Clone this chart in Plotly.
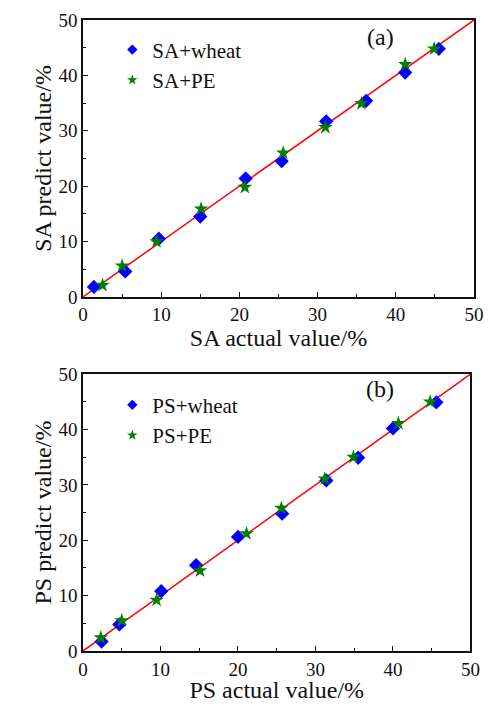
import plotly.graph_objects as go

# ---- data ----
sa_wheat_x = [1.4, 5.4, 9.7, 15.0, 20.8, 25.4, 31.1, 36.2, 41.2, 45.5]
sa_wheat_y = [1.8, 4.6, 10.5, 14.5, 21.4, 24.5, 31.7, 35.4, 40.5, 44.8]
sa_pe_x = [2.5, 5.0, 9.4, 15.1, 20.7, 25.6, 31.0, 35.6, 41.2, 44.9]
sa_pe_y = [2.1, 5.6, 10.0, 15.9, 19.8, 26.0, 30.6, 34.9, 42.0, 44.8]
ps_wheat_x = [2.4, 4.7, 10.1, 14.6, 20.0, 25.7, 31.4, 35.5, 40.0, 45.6]
ps_wheat_y = [1.7, 4.8, 10.8, 15.5, 20.6, 24.8, 30.8, 34.9, 40.2, 44.9]
ps_pe_x = [2.3, 5.0, 9.5, 15.1, 21.1, 25.6, 31.2, 34.9, 40.7, 44.8]
ps_pe_y = [2.4, 5.5, 9.2, 14.5, 21.2, 25.8, 31.1, 35.0, 41.1, 45.0]
fit_line = [0, 50]
tick_vals = [0, 10, 20, 30, 40, 50]

FONT = "Liberation Serif"
BLUE = "#0000FF"
GREEN = "#007F00"
RED = "#FF0000"
INK = "#111111"

fig = go.Figure()

def add_panel(xa, ya, wx, wy, px, py, lname_w, lname_p, legend):
    fig.add_trace(go.Scatter(x=fit_line, y=fit_line, mode="lines",
                             line=dict(color=RED, width=1.5), showlegend=False,
                             xaxis=xa, yaxis=ya, hoverinfo="skip"))
    fig.add_trace(go.Scatter(x=wx, y=wy, mode="markers", name=lname_w,
                             marker=dict(symbol="diamond", size=11, color=BLUE),
                             showlegend=False, xaxis=xa, yaxis=ya))
    fig.add_trace(go.Scatter(x=px, y=py, mode="markers", name=lname_p,
                             marker=dict(symbol="star", size=11, color=GREEN),
                             showlegend=False, xaxis=xa, yaxis=ya))
    # legend entries (smaller symbols as in reference)
    fig.add_trace(go.Scatter(x=[None], y=[None], mode="markers", name=lname_w,
                             marker=dict(symbol="diamond", size=8, color=BLUE),
                             legend=legend, xaxis=xa, yaxis=ya))
    fig.add_trace(go.Scatter(x=[None], y=[None], mode="markers", name=lname_p,
                             marker=dict(symbol="star", size=8, color=GREEN),
                             legend=legend, xaxis=xa, yaxis=ya))

add_panel("x", "y", sa_wheat_x, sa_wheat_y, sa_pe_x, sa_pe_y, "SA+wheat", "SA+PE", "legend")
add_panel("x2", "y2", ps_wheat_x, ps_wheat_y, ps_pe_x, ps_pe_y, "PS+wheat", "PS+PE", "legend2")

def axis_style(title, domain, anchor, standoff, is_x):
    d = dict(domain=domain, anchor=anchor, range=[0, 50], tickvals=tick_vals,
             ticks="inside", ticklen=5, tickwidth=1.2, tickcolor=INK,
             minor=dict(ticks="inside", ticklen=3, tickwidth=1.2, tickcolor=INK, dtick=5, tick0=0),
             showline=True, linecolor=INK, linewidth=1.5, mirror=True,
             showgrid=False, zeroline=False,
             tickfont=dict(family=FONT, size=19, color=INK),
             title=dict(text=title, font=dict(family=FONT, size=24, color=INK), standoff=standoff))
    if is_x:
        d["ticklabeloverflow"] = "allow"
    return d

# the page body keeps its default 8px margin, so the figure is 16px smaller
W, H = 478, 695
ml, mr, mt, mb = 75, 2, 11, 42
fig.update_layout(
    width=W, height=H,
    margin=dict(l=ml, r=mr, t=mt, b=mb),
    paper_bgcolor="white", plot_bgcolor="white",
    font=dict(family=FONT, color=INK),
    xaxis=axis_style("SA actual value/%", [0, 1], "y", 3, True),
    yaxis=axis_style("SA predict value/%", [0.5612, 1], "x", 0, False),
    xaxis2=axis_style("PS actual value/%", [0, 0.991], "y2", 5, True),
    yaxis2=axis_style("PS predict value/%", [0, 0.4388], "x2", 0, False),
    legend=dict(x=0.075, y=0.985, xanchor="left", yanchor="top",
                bgcolor="rgba(0,0,0,0)", font=dict(family=FONT, size=21, color=INK),
                tracegroupgap=0, itemwidth=30),
    legend2=dict(x=0.075, y=0.422, xanchor="left", yanchor="top",
                 bgcolor="rgba(0,0,0,0)", font=dict(family=FONT, size=21, color=INK),
                 tracegroupgap=0, itemwidth=30),
    annotations=[
        dict(x=38.0, y=47.0, xref="x", yref="y", text="(a)", showarrow=False,
             font=dict(family=FONT, size=24, color=INK)),
        dict(x=38.3, y=47.3, xref="x2", yref="y2", text="(b)", showarrow=False,
             font=dict(family=FONT, size=24, color=INK)),
    ],
)

fig.write_html("out.html", config={"displayModeBar": False})
